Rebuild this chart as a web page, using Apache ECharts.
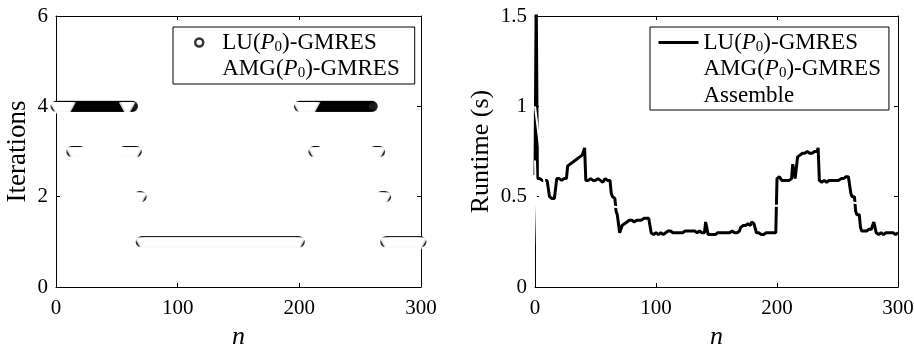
<!DOCTYPE html>
<html>
<head>
<meta charset="utf-8">
<script src="https://cdn.jsdelivr.net/npm/echarts@6.0.0/dist/echarts.min.js"></script>
<style>
  html, body { margin: 0; padding: 0; background: #fff; }
  #main { width: 914px; height: 345px; }
</style>
</head>
<body>
<div id="main"></div>
<script>
// iterations per n, as runs [nStart, nEnd, iterations]
const luIterRuns = [
  [0, 63, 4], [13, 20, 3], [56, 66, 3], [68, 70, 2], [70, 200, 1],
  [200, 260, 4], [212, 215, 3], [262, 266, 3], [267, 271, 2], [271, 300, 1]
];
const amgIterRuns = [
  [0, 11, 4], [57, 60, 4], [13, 66, 3], [13, 70, 2], [70, 200, 1],
  [200, 212, 4], [212, 266, 3], [214, 271, 2], [271, 300, 1]
];

// runtime (s) of LU(P0)-GMRES for n = 0..300
const luRuntime = [
  0.62, 1.62, 0.60,
  0.59, 0.60, 0.59, 0.59, 0.60, 0.59, 0.60, 0.59, 0.60,
  0.50, 0.49, 0.49, 0.50, 0.49, 0.49,
  0.60, 0.59, 0.60, 0.60, 0.59, 0.60, 0.60, 0.61, 0.60,
  0.67, 0.68, 0.68, 0.69, 0.69, 0.70,
  0.70, 0.71, 0.71, 0.72, 0.72, 0.71, 0.73, 0.74,
  0.77,
  0.59, 0.58, 0.59, 0.59, 0.60, 0.59, 0.59, 0.58, 0.59, 0.59, 0.60, 0.59, 0.59, 0.59, 0.58, 0.59, 0.60, 0.59, 0.59, 0.60, 0.59,
  0.52, 0.50, 0.50, 0.49, 0.42, 0.40, 0.40, 0.30, 0.31, 0.34, 0.35, 0.35, 0.36,
  0.36, 0.36, 0.37, 0.36, 0.37, 0.37, 0.36, 0.37, 0.37, 0.37, 0.37, 0.38, 0.37, 0.37, 0.38, 0.37, 0.38, 0.38, 0.38, 0.38,
  0.30, 0.30, 0.29, 0.30, 0.30, 0.30, 0.29, 0.30, 0.30, 0.30,
  0.29, 0.29, 0.30, 0.30, 0.31, 0.30, 0.31, 0.31, 0.30, 0.31,
  0.30, 0.30, 0.30, 0.31, 0.30, 0.30, 0.30, 0.31, 0.31, 0.30,
  0.31, 0.30, 0.31, 0.31, 0.31, 0.32, 0.31, 0.31, 0.30, 0.31,
  0.31, 0.30, 0.30, 0.31, 0.30,
  0.36, 0.33, 0.29,
  0.29, 0.29, 0.29, 0.29, 0.30, 0.29, 0.30, 0.30, 0.29, 0.30,
  0.30, 0.30, 0.29, 0.30, 0.30, 0.30, 0.30, 0.30, 0.30, 0.31,
  0.30, 0.30, 0.31, 0.30, 0.30, 0.31,
  0.33, 0.34, 0.34, 0.33, 0.34, 0.34, 0.35, 0.35, 0.34, 0.36, 0.36, 0.35, 0.35,
  0.30, 0.29, 0.30, 0.30, 0.29, 0.30, 0.29, 0.30, 0.30, 0.29, 0.30, 0.30, 0.30, 0.29, 0.30, 0.30, 0.30,
  0.60, 0.60, 0.61, 0.60, 0.59, 0.60, 0.59, 0.59, 0.59, 0.60, 0.59, 0.60, 0.60,
  0.68, 0.68, 0.60, 0.60,
  0.72,
  0.72, 0.73, 0.73, 0.74, 0.73, 0.74, 0.74, 0.75, 0.74, 0.74, 0.75, 0.74, 0.75, 0.75, 0.76, 0.75,
  0.77,
  0.59, 0.59, 0.58, 0.59, 0.59, 0.59, 0.58, 0.59, 0.59, 0.59, 0.59, 0.58, 0.59, 0.59, 0.59, 0.58, 0.59, 0.59, 0.60, 0.60, 0.60,
  0.60, 0.61, 0.60, 0.61, 0.60,
  0.52, 0.50, 0.49, 0.50, 0.42, 0.40, 0.41, 0.40, 0.33, 0.31,
  0.31, 0.31, 0.30, 0.31, 0.31, 0.32, 0.31, 0.32,
  0.34, 0.36, 0.35, 0.30,
  0.30, 0.29, 0.30, 0.30, 0.30, 0.29, 0.30, 0.30, 0.30, 0.30, 0.29, 0.30, 0.30, 0.30, 0.30, 0.29, 0.30, 0.30
];

// the other two runtime curves are drawn in white (barely visible)
const amgRuntimeN = [0, 10, 20, 30, 40, 50, 60, 70, 80, 90, 100, 110, 120, 130, 140, 150,
  160, 170, 180, 190, 200, 210, 220, 230, 240, 250, 260, 270, 280, 290, 300];
const amgRuntime = [1.00, 0.46, 0.45, 0.46, 0.47, 0.46, 0.45, 0.44, 0.45, 0.46, 0.45, 0.46, 0.45,
  0.46, 0.46, 0.45, 0.46, 0.45, 0.46, 0.45, 0.45, 0.46, 0.47, 0.46, 0.46, 0.47, 0.47, 0.46, 0.45, 0.46, 0.45];
const assembleN = [0, 2, 10, 100, 200, 300];
const assembleRuntime = [0.70, 0.12, 0.12, 0.12, 0.12, 0.12];

const xTicks = { min: 0, max: 300, interval: 100 };
const iterTicks = { min: 0, max: 6, interval: 2 };
const timeTicks = { min: 0, max: 1.5, interval: 0.5 };

const serif = 'Liberation Serif';

function expandRuns(runs) {
  const pts = [];
  runs.forEach(([a, b, v]) => {
    for (let n = a; n <= b; n++) pts.push([n, v]);
  });
  return pts;
}

function fmtName(name) {
  const t = name.trim();
  if (t === 'Assemble') return '{r|Assemble}';
  const head = t.split('(')[0];
  return '{r|' + head + '(}{i|P}{s|0}{r|)-GMRES}';
}

const legendText = {
  fontFamily: serif,
  fontSize: 23,
  color: '#000',
  rich: {
    r: { fontFamily: serif, fontSize: 23, lineHeight: 24, color: '#000' },
    i: { fontFamily: serif, fontSize: 23, lineHeight: 24, fontStyle: 'italic', color: '#000' },
    s: { fontFamily: serif, fontSize: 15, lineHeight: 12, verticalAlign: 'bottom', color: '#000' }
  }
};

function axisPair(gridIndex, ticks, kind, name, nameGap, nameSize) {
  const base = {
    gridIndex: gridIndex,
    type: 'value',
    min: ticks.min,
    max: ticks.max,
    interval: ticks.interval,
    axisLine: { show: true, onZero: false, lineStyle: { color: '#000', width: 1 } },
    axisTick: { show: true, inside: true, length: 4, lineStyle: { color: '#000' } },
    splitLine: { show: false }
  };
  const main = Object.assign({}, base, {
    position: kind === 'x' ? 'bottom' : 'left',
    axisLabel: { color: '#000', fontFamily: serif, fontSize: 21, margin: kind === 'x' ? 11 : 8 },
    name: name,
    nameLocation: 'middle',
    nameGap: nameGap,
    nameTextStyle: {
      color: '#000', fontFamily: serif, fontSize: nameSize,
      fontStyle: kind === 'x' ? 'italic' : 'normal'
    }
  });
  const mirror = Object.assign({}, base, {
    position: kind === 'x' ? 'top' : 'right',
    axisLabel: { show: false }
  });
  return [main, mirror];
}

const xAxis = [
  ...axisPair(0, xTicks, 'x', 'n', 37, 26),
  ...axisPair(1, xTicks, 'x', 'n', 37, 26)
];
const yAxis = [
  ...axisPair(0, iterTicks, 'y', 'Iterations', 25, 27),
  ...axisPair(1, timeTicks, 'y', 'Runtime (s)', 41, 26)
];

const triDown = 'path://M0,0 L13,0 L6.5,12 Z';
const noMark = { color: 'rgba(0,0,0,0)', borderWidth: 0 };

const chart = echarts.init(document.getElementById('main'));
chart.setOption({
  animation: false,
  backgroundColor: '#fff',
  textStyle: { fontFamily: serif },
  grid: [
    { left: 56, right: 493, top: 16, bottom: 58, containLabel: false, outerBoundsMode: 'none' },
    { left: 535, right: 16, top: 16, bottom: 58, containLabel: false, outerBoundsMode: 'none' }
  ],
  xAxis: xAxis,
  yAxis: yAxis,
  legend: [
    {
      orient: 'vertical',
      left: 173,
      top: 27,
      itemWidth: 36,
      itemHeight: 8,
      itemGap: 3,
      padding: [4, 15, 3, 21],
      borderColor: '#000',
      borderWidth: 1,
      backgroundColor: '#fff',
      selectedMode: false,
      formatter: fmtName,
      textStyle: legendText,
      data: [
        { name: 'LU(P0)-GMRES', icon: 'circle',
          itemStyle: { color: 'rgba(0,0,0,0)', borderColor: '#000', borderWidth: 2.5 } },
        { name: 'AMG(P0)-GMRES', icon: triDown,
          itemStyle: { color: '#fff', borderWidth: 0 } }
      ]
    },
    {
      orient: 'vertical',
      left: 650,
      top: 27,
      itemWidth: 40,
      itemHeight: 14,
      itemGap: 3,
      padding: [4, 8, 3, 7],
      borderColor: '#000',
      borderWidth: 1,
      backgroundColor: '#fff',
      selectedMode: false,
      formatter: fmtName,
      textStyle: legendText,
      data: [
        { name: 'LU(P0)-GMRES ', itemStyle: noMark, lineStyle: { color: '#000', width: 3 } },
        { name: 'AMG(P0)-GMRES ', itemStyle: noMark, lineStyle: { color: '#fff', width: 2 } },
        { name: 'Assemble ', itemStyle: noMark, lineStyle: { color: '#fff', width: 2 } }
      ]
    }
  ],
  series: [
    {
      name: 'LU(P0)-GMRES',
      type: 'scatter',
      xAxisIndex: 0,
      yAxisIndex: 0,
      symbol: 'circle',
      symbolSize: 9,
      itemStyle: { color: 'rgba(0,0,0,0)', borderColor: '#000', borderWidth: 2 },
      data: expandRuns(luIterRuns)
    },
    {
      name: 'AMG(P0)-GMRES',
      type: 'scatter',
      xAxisIndex: 0,
      yAxisIndex: 0,
      symbol: triDown,
      symbolSize: [13, 12],
      symbolOffset: [0, 2],
      itemStyle: { color: '#fff', borderWidth: 0 },
      data: expandRuns(amgIterRuns)
    },
    {
      name: 'LU(P0)-GMRES ',
      type: 'line',
      xAxisIndex: 2,
      yAxisIndex: 2,
      showSymbol: false,
      symbol: 'none',
      lineStyle: { color: '#000', width: 3 },
      itemStyle: { color: '#000' },
      data: luRuntime.map((v, i) => [i, v])
    },
    {
      name: 'AMG(P0)-GMRES ',
      type: 'line',
      xAxisIndex: 2,
      yAxisIndex: 2,
      showSymbol: false,
      symbol: 'none',
      lineStyle: { color: '#fff', width: 2 },
      itemStyle: { color: '#fff' },
      data: amgRuntime.map((v, i) => [amgRuntimeN[i], v])
    },
    {
      name: 'Assemble ',
      type: 'line',
      xAxisIndex: 2,
      yAxisIndex: 2,
      showSymbol: false,
      symbol: 'none',
      lineStyle: { color: '#fff', width: 2 },
      itemStyle: { color: '#fff' },
      data: assembleRuntime.map((v, i) => [assembleN[i], v])
    }
  ]
});
</script>
</body>
</html>
